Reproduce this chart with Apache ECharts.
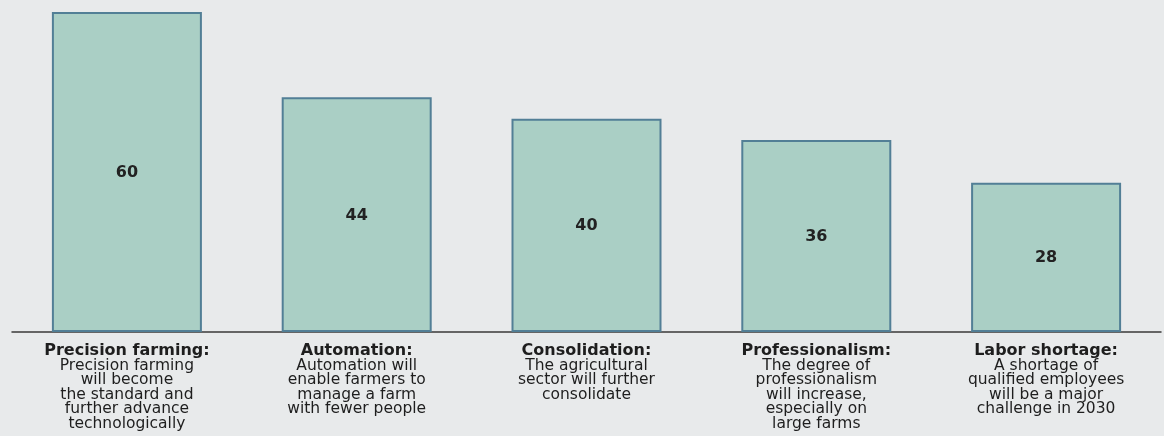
<!DOCTYPE html>
<html><head><meta charset="utf-8">
<script src="https://cdn.jsdelivr.net/npm/echarts@6/dist/echarts.min.js"></script>
<style>html,body{margin:0;padding:0;background:#e8eaeb;}#c{width:1164px;height:436px;}</style>
</head><body><div id="c"></div>
<script>
const titles = ['Precision farming:', 'Automation:', 'Consolidation:', 'Professionalism:', 'Labor shortage:'];
const descriptions = [
  'Precision farming\nwill become\nthe standard and\nfurther advance\ntechnologically',
  'Automation will\nenable farmers to\nmanage a farm\nwith fewer people',
  'The agricultural\nsector will further\nconsolidate',
  'The degree of\nprofessionalism\nwill increase,\nespecially on\nlarge farms',
  'A shortage of\nqualified employees\nwill be a major\nchallenge in 2030'
];
const values = [60, 44, 40, 36, 28];

const chart = echarts.init(document.getElementById('c'));
chart.setOption({
  backgroundColor: '#e8eaeb',
  animation: false,
  grid: {left: 12, right: 3, top: 12, bottom: 104},
  xAxis: {
    type: 'category',
    data: titles.map((t, i) => t + '||' + descriptions[i]),
    axisTick: {show: false},
    axisLine: {lineStyle: {color: '#3a3a3a', width: 1.5}},
    axisLabel: {
      interval: 0,
      margin: 12,
      formatter: function (v) {
        const parts = v.split('||');
        const lines = parts[1].split('\n').map(l => '{r|' + l + '}').join('\n');
        return '{b|' + parts[0] + '}\n' + lines;
      },
      rich: {
        b: {fontFamily: 'DejaVu Sans', fontWeight: 'bold', fontSize: 16, lineHeight: 14.5, color: '#1e1e1e', align: 'center'},
        r: {fontFamily: 'DejaVu Sans', fontSize: 15.5, lineHeight: 14.5, color: '#1e1e1e', align: 'center'}
      }
    }
  },
  yAxis: {
    type: 'value', min: 0, max: 60, show: false,
    splitLine: {show: false}
  },
  series: [{
    type: 'bar',
    data: values,
    barWidth: 150,
    itemStyle: {color: '#aacfc5', borderColor: '#527f96', borderWidth: 2},
    label: {
      show: true, position: 'inside', offset: [0, 1],
      fontFamily: 'DejaVu Sans', fontWeight: 'bold', fontSize: 16, color: '#222'
    }
  }]
});
</script></body></html>
